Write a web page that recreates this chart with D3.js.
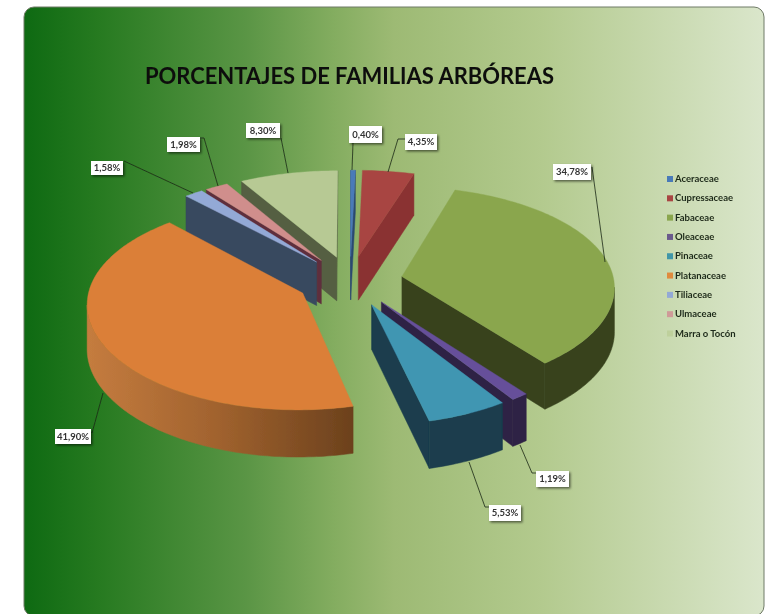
<!DOCTYPE html>
<html><head><meta charset="utf-8">
<script src="https://cdn.jsdelivr.net/npm/d3@7"></script>
<style>html,body{margin:0;padding:0;background:#fff;overflow:hidden}svg{display:block}</style>
</head><body><div id="c"></div>
<script>
// ---- data ----
const titleText = "PORCENTAJES DE FAMILIAS ARBÓREAS";
const categories = ["Aceraceae","Cupressaceae","Fabaceae","Oleaceae","Pinaceae","Platanaceae","Tiliaceae","Ulmaceae","Marra o Tocón"];
const values = [0.40,4.35,34.78,1.19,5.53,41.90,1.58,1.98,8.30];
// ---- styles ----
const topColors  = ["#4a7ab8","#a84442","#8aa64e","#66509a","#3f96b2","#db7f38","#93a9d6","#d08e8c","#b7c994"];
const wallColors = ["#2c4a70","#8a3232","#38431f","#2e2245","#1a3d4d","url(#platWall)","#37495f","#5e2f3c","#555e42"];
const legendColors = ["#4a7ab8","#a84442","#8aa64e","#6a5a8c","#3f96a8","#e08a3c","#93a9d6","#cf9a98","#bed09c"];
const labelBoxes = [[349,126,33,17],[405,134,32,16],[553,164,38,16],[536,471,33,16],[489,505,32,16],[55,429,36,15],[91,161,32,14],[167,137,33,15],[246,123,34,15]];
const leaderEnds = [[353,143],[398,139,405,139],[592,167],[532,473,537,473],[485,507,490,507],[92,433],[124,161],[204,138,200,138],[281,138]];
const leaderFrom = [[352,170],[388,172],[605,262],[520,445],[469,462],[103,393],[193,193],[218,186],[288,173]];
const paintOrder = [8,7,6,0,1,2,3,4,5];

const W=772,H=614,cx=350,cy=281,Rx=212,Ry=101,k=0.111,kx=0.09,E=0.25,depth=44;
const svg=d3.select("#c").append("svg").attr("width",W).attr("height",H);
const defs=svg.append("defs");
const bg=defs.append("linearGradient").attr("id","bg");
[[0,"#0e6a12"],[0.1,"#267a20"],[0.3,"#5a9545"],[0.42,"#84ad60"],[0.5,"#9dba74"],[0.7,"#b3ca8e"],[1,"#dae6cb"]]
  .forEach(s=>bg.append("stop").attr("offset",s[0]).attr("stop-color",s[1]));
const pw=defs.append("linearGradient").attr("id","platWall").attr("gradientUnits","userSpaceOnUse")
  .attr("x1",86).attr("x2",353).attr("y1",0).attr("y2",0);
[[0,"#c57c3f"],[0.5,"#a0622e"],[1,"#6c411d"]].forEach(s=>pw.append("stop").attr("offset",s[0]).attr("stop-color",s[1]));
const sh=defs.append("filter").attr("id","sh").attr("x","-20%").attr("y","-20%").attr("width","150%").attr("height","160%");
sh.append("feDropShadow").attr("dx",1.5).attr("dy",1.5).attr("stdDeviation",1).attr("flood-color","#000").attr("flood-opacity",.55);
const soft=defs.append("filter").attr("id","soft");
soft.append("feGaussianBlur").attr("stdDeviation",.35);

svg.append("rect").attr("x",24).attr("y",7).attr("width",740).attr("height",609).attr("rx",10)
  .attr("fill","url(#bg)").attr("stroke","#6f7a66").attr("stroke-width",1);

const root=svg.append("g").attr("filter","url(#soft)");
root.append("text").attr("x",145).attr("y",84).attr("font-family","Lato,'Open Sans',sans-serif").attr("font-weight",700)
  .attr("font-size",23.5).attr("fill","#0c0f0a").attr("textLength",409).attr("lengthAdjust","spacingAndGlyphs").text(titleText);

const arcs=d3.pie().sort(null).value(d=>d)(values);
const sx=d3.scaleLinear().domain([0,1]).range([cx,cx+Rx]);
const sy=d3.scaleLinear().domain([0,1]).range([cy,cy-Ry]);
function proj(X,Y){const s=1/(1+k*Y),t=1/(1+kx*Y);return {x:sx(X*t),y:sy(Y*s),d:depth*(1+(s-1)*0.5)};}
const poly=d3.line().x(p=>p[0]).y(p=>p[1]);
const top3=p=>[p.x,p.y], low=p=>[p.x,p.y+p.d];

paintOrder.forEach(i=>{
  const a=arcs[i],mid=(a.startAngle+a.endAngle)/2;
  const ox=E*Math.sin(mid),oy=E*Math.cos(mid);
  const apex=proj(ox,oy);
  const rim=d3.range(a.startAngle,a.endAngle,Math.PI/180).concat([a.endAngle]).map(t=>proj(ox+Math.sin(t),oy+Math.cos(t)));
  const g=root.append("g");
  const fillWall=pts=>g.append("path").attr("d",poly(pts)+"Z").attr("fill",wallColors[i]).attr("stroke",wallColors[i]).attr("stroke-width",.5);
  const first=rim[0],last=rim[rim.length-1];
  if(first.x<apex.x) fillWall([top3(apex),top3(first),low(first),low(apex)]);
  if(apex.x<last.x) fillWall([top3(last),top3(apex),low(apex),low(last)]);
  // visible run(s) of the outer rim as single polygons, so no seams appear
  let run=[];
  const flush=()=>{ if(run.length>1) fillWall([...run.map(top3),...run.slice().reverse().map(low)]); run=[]; };
  d3.pairs(rim).forEach(([p,q])=>{
    if(q.x<p.x){ if(!run.length) run.push(p); run.push(q); } else flush();
  });
  flush();
  g.append("path").attr("d",poly([top3(apex),...rim.map(top3)])+"Z").attr("fill",topColors[i]).attr("stroke",topColors[i]).attr("stroke-width",.4);
});

// leader lines and labels
values.forEach((v,i)=>{
  const e=leaderEnds[i],pts=[leaderFrom[i]];
  for(let j=0;j<e.length;j+=2)pts.push([e[j],e[j+1]]);
  root.append("path").attr("d",poly(pts)).attr("fill","none").attr("stroke","#1c2a16").attr("stroke-width",.8);
});
values.forEach((v,i)=>{
  const b=labelBoxes[i];
  root.append("rect").attr("x",b[0]).attr("y",b[1]).attr("width",b[2]).attr("height",b[3]).attr("fill","#fff").attr("filter","url(#sh)");
  root.append("text").attr("x",b[0]+b[2]/2).attr("y",b[1]+b[3]/2+3.4).attr("text-anchor","middle")
    .attr("font-family","Lato,sans-serif").attr("font-weight",700).attr("font-size",9.5).attr("fill","#333")
    .text(d3.format(".2f")(v).replace(".",",")+"%");
});

// legend
const ly=d3.scalePoint().domain(categories).range([179,333.5]);
categories.forEach((c,i)=>{
  root.append("rect").attr("x",667).attr("y",ly(c)-3).attr("width",6).attr("height",6).attr("fill",legendColors[i]);
  root.append("text").attr("x",675).attr("y",ly(c)+3).attr("font-family","Lato,sans-serif").attr("font-weight",700)
    .attr("font-size",9.5).attr("fill","#1e2a1a").text(c);
});
</script></body></html>
